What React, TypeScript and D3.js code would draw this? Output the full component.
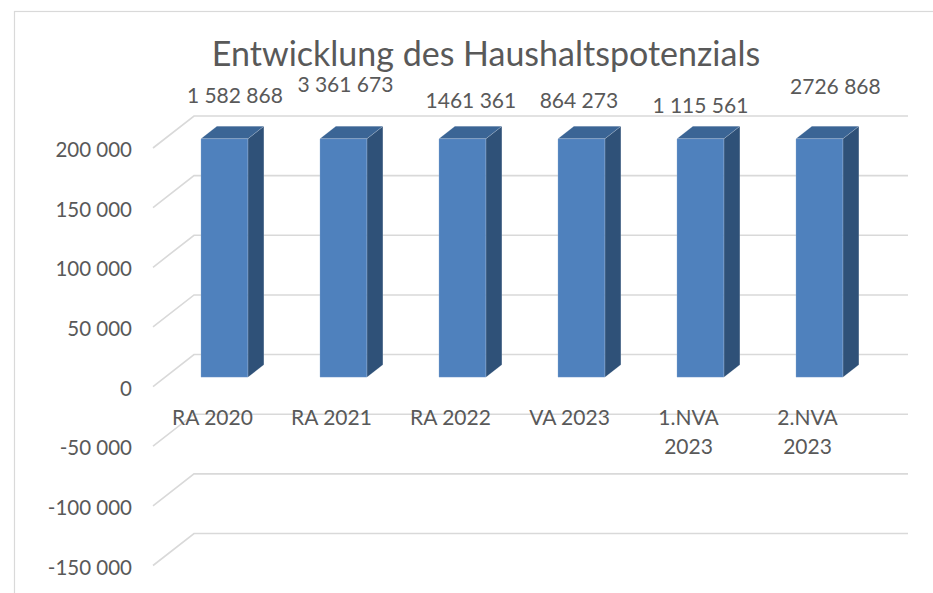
import React from "react";
import * as d3 from "d3";

const categories: string[][] = [
  ["RA 2020"],
  ["RA 2021"],
  ["RA 2022"],
  ["VA 2023"],
  ["1.NVA", "2023"],
  ["2.NVA", "2023"],
];
const values: number[] = [1582868, 3361673, 1461361, 864273, 1115561, 2726868];
const valueLabels: string[] = ["1 582 868", "3 361 673", "1461 361", "864 273", "1 115 561", "2726 868"];
const yTicks: number[] = [-150000, -100000, -50000, 0, 50000, 100000, 150000, 200000];
const yTickLabels: string[] = ["-150 000", "-100 000", "-50 000", "0", "50 000", "100 000", "150 000", "200 000"];
const title = "Entwicklung des Haushaltspotenzials";

// label placement (manual positions in the original chart)
const labelDx = [10.5, 2, 8.5, -2.5, 0, 16];
const labelBaseline = [102.5, 91.5, 108, 107.5, 112.5, 94];

const W = 933;
const H = 593;
const FONT = "Lato, 'Open Sans', sans-serif";
const TXT = "#595959";
const GRID = "#d9d9d9";

const DX = 41; // depth projection
const DY = -32;
const BAR_D0 = 0.29;
const BAR_D1 = 0.68;

export default function App() {
  const x = d3
    .scaleBand<number>()
    .domain(d3.range(categories.length))
    .range([153, 867])
    .paddingInner(0.605)
    .paddingOuter(0.3025);
  const y = d3.scaleLinear().domain([-150000, 200000]).range([565.5, 148]).clamp(true);

  const proj = (px: number, py: number, d: number): [number, number] => [px + DX * d, py + DY * d];
  const pts = (arr: [number, number][]) => arr.map((p) => p.join(",")).join(" ");

  const lineGen = d3.line();

  return (
    <svg
      width={W}
      height={H}
      style={{ position: "absolute", left: 0, top: 0, background: "#fff" }}
      fontFamily={FONT}
    >
      <rect x={14.5} y={11.5} width={W} height={H} fill="#fff" stroke={GRID} strokeWidth={1.2} />
      <text x={486} y={66} textAnchor="middle" fontSize={34} fill={TXT}>
        {title}
      </text>
      {yTicks.map((t, i) => {
        const yf = y(t);
        const [bx, by] = proj(153, yf, 1);
        return (
          <g key={t}>
            <path
              d={lineGen([
                [153, yf],
                [bx, by],
                [908, by],
              ]) || ""}
              fill="none"
              stroke={GRID}
              strokeWidth={1.6}
            />
            <text x={132} y={yf + 9} textAnchor="end" fontSize={20.5} fill={TXT}>
              {yTickLabels[i]}
            </text>
          </g>
        );
      })}
      {values.map((v, i) => {
        const x0 = x(i)!;
        const x1 = x0 + x.bandwidth();
        const yt = y(v);
        const yb = y(0);
        const fl = proj(x0, yt, BAR_D0);
        const fr = proj(x1, yt, BAR_D0);
        const frb = proj(x1, yb, BAR_D0);
        const fb = proj(x0, yb, BAR_D0);
        const bl = proj(x0, yt, BAR_D1);
        const br = proj(x1, yt, BAR_D1);
        const brb = proj(x1, yb, BAR_D1);
        return (
          <g key={i} stroke="rgba(255,255,255,0.25)" strokeWidth={0.6}>
            <polygon points={pts([fr, br, brb, frb])} fill="#2f5178" />
            <polygon points={pts([fl, fr, br, bl])} fill="#3b6595" />
            <polygon points={pts([fl, fr, frb, fb])} fill="#4f81bd" />
          </g>
        );
      })}
      {categories.map((lines, i) => {
        const cx = x(i)! + x.bandwidth() / 2;
        return (
          <text key={i} x={cx} y={y(0) + 38.5} textAnchor="middle" fontSize={21} fill={TXT}>
            {lines.map((l, j) => (
              <tspan key={j} x={cx} dy={j === 0 ? 0 : 29}>
                {l}
              </tspan>
            ))}
          </text>
        );
      })}
      {valueLabels.map((lab, i) => {
        const [cx] = proj(x(i)! + x.bandwidth() / 2, 0, BAR_D0);
        return (
          <text key={i} x={cx + labelDx[i]} y={labelBaseline[i]} textAnchor="middle" fontSize={21} fill={TXT}>
            {lab}
          </text>
        );
      })}
    </svg>
  );
}
